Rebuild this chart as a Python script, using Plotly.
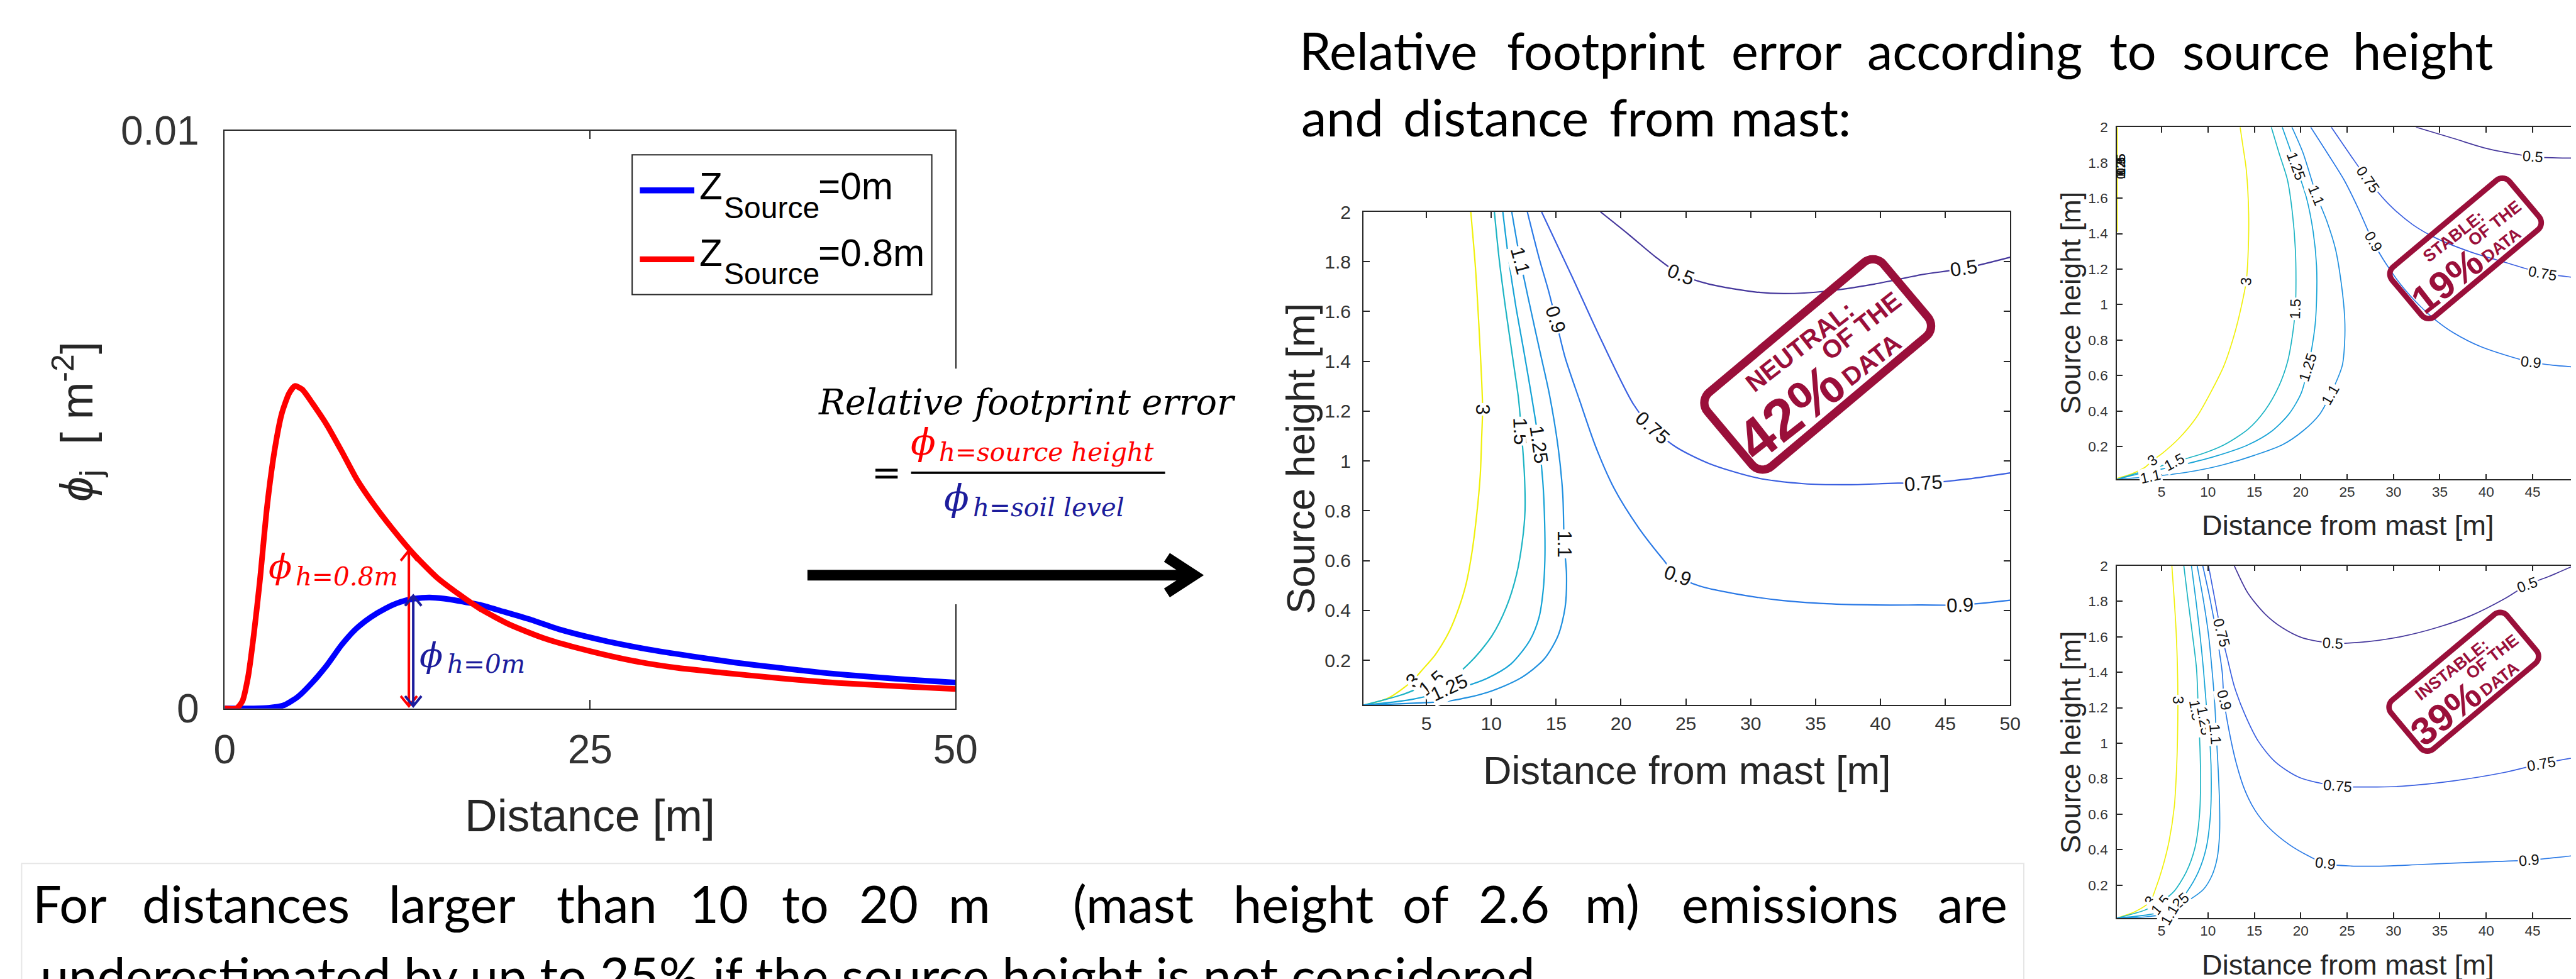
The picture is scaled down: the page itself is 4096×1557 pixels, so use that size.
import math
import plotly.graph_objects as go

# ============================ DATA ============================
# Left panel: footprint function phi_j [m^-2] vs distance [m]
dist_z0 = [0, 2, 3, 4, 5, 6, 7, 8, 9, 10, 11, 12, 13, 14, 15, 16, 17.5, 19, 21, 23, 26, 29, 32, 35, 38, 41, 44, 47, 50]
phi_z0 = [0.0, 0.0, 0.00001, 0.00005, 0.0002, 0.00045, 0.00075, 0.0011, 0.00138, 0.00158, 0.00173, 0.00184,
          0.0019, 0.00192, 0.0019, 0.00186, 0.00179, 0.00168, 0.00153, 0.00136, 0.00117, 0.00102, 0.0009,
          0.00079, 0.0007, 0.000615, 0.00055, 0.000495, 0.000448]
dist_z08 = [0, 0.8, 1.2, 1.6, 2.0, 2.4, 2.9, 3.4, 3.9, 4.4, 4.8, 5.3, 6.0, 7.0, 8.0, 9.0, 10.0, 11.5, 13.0,
            14.5, 16.0, 17.5, 19.5, 22.0, 25.0, 28.0, 31.0, 34.0, 38.0, 42.0, 46.0, 50.0]
phi_z08 = [0.0, 0.0, 0.00012, 0.00055, 0.0013, 0.0022, 0.0035, 0.00445, 0.0051, 0.00545, 0.00558, 0.00552,
           0.00528, 0.0049, 0.00445, 0.00398, 0.0036, 0.0031, 0.00265, 0.00227, 0.00198, 0.00172, 0.00145,
           0.0012, 0.00099, 0.00082, 0.0007, 0.00062, 0.00052, 0.00044, 0.000385, 0.000337]
legend_labels = ["Z", "Source", "=0m", "=0.8m"]
arrow_red = (12.6, 0.00273)
arrow_blue = (12.9, 0.00195)
arrow_base = 0.00004

# Contour lines of the relative footprint error (distance [m], source height [m])
neutral_3 = [(0.16, 0.02), (2.05, 0.048), (3.95, 0.119), (4.6, 0.157), (5.69, 0.223), (6.78, 0.318), (7.51, 0.412),
             (8.06, 0.507), (8.53, 0.64), (8.89, 0.791), (9.15, 0.943), (9.26, 1.094), (9.33, 1.208), (9.26, 1.322),
             (9.04, 1.549), (8.78, 1.776), (8.42, 2.0)]
neutral_15 = [(0.16, 0.02), (3.14, 0.062), (5.4, 0.109), (7.15, 0.138), (8.6, 0.204), (10.06, 0.299), (11.15, 0.412),
              (11.95, 0.545), (12.4, 0.68), (12.6, 0.8), (12.55, 0.95), (12.35, 1.1), (12.1, 1.25), (11.69, 1.4),
              (11.07, 1.625), (10.6, 1.814), (10.24, 2.0)]
neutral_125 = [(0.16, 0.02), (3.87, 0.043), (7.87, 0.094), (9.69, 0.128), (11.51, 0.185), (12.97, 0.28), (13.69, 0.374),
               (14.0, 0.48), (14.13, 0.6), (14.13, 0.715), (13.99, 0.905), (13.69, 1.066), (13.15, 1.246),
               (12.53, 1.435), (11.88, 1.625), (11.33, 1.814), (10.89, 2.0)]
neutral_11 = [(0.16, 0.02), (3.14, 0.026), (6.78, 0.037), (9.69, 0.071), (12.24, 0.128), (14.06, 0.204), (15.15, 0.299),
              (15.69, 0.412), (15.8, 0.545), (15.62, 0.668), (15.51, 0.867), (15.15, 1.056), (14.49, 1.265),
              (13.69, 1.454), (12.89, 1.644), (12.24, 1.805), (11.58, 2.0)]
neutral_09 = [(12.78, 2.0), (13.69, 1.814), (14.42, 1.682), (14.97, 1.568), (15.69, 1.416), (16.79, 1.246),
              (18.06, 1.056), (19.51, 0.886), (21.33, 0.734), (23.15, 0.611), (24.35, 0.539), (26.06, 0.498),
              (28.61, 0.469), (32.25, 0.441), (35.88, 0.427), (39.52, 0.422), (43.16, 0.422), (46.14, 0.422), (50, 0.441)]
neutral_075 = [(13.88, 2.0), (16.24, 1.739), (18.42, 1.492), (20.97, 1.227), (22.42, 1.132), (24.24, 1.056),
               (26.79, 0.99), (30.43, 0.933), (34.07, 0.909), (37.7, 0.905), (41.34, 0.911), (43.34, 0.911),
               (46.8, 0.928), (50, 0.952)]
neutral_05 = [(18.42, 2.0), (20.6, 1.909), (22.79, 1.814), (24.6, 1.748), (26.79, 1.71), (30.43, 1.678), (32.6, 1.672),
              (35.88, 1.682), (39.52, 1.71), (43.16, 1.748), (46.43, 1.773), (50, 1.818)]

stable_3 = [(0.2, 0.02), (1.75, 0.045), (3.23, 0.083), (4.04, 0.122), (5.07, 0.161), (6.92, 0.248), (8.77, 0.365),
            (10.25, 0.5), (11.73, 0.656), (12.84, 0.83), (13.58, 0.985), (14.13, 1.131), (14.32, 1.276), (14.39, 1.509),
            (14.13, 1.761), (13.76, 1.897), (13.47, 2.0)]
stable_3_edge = [(0.25, 1.41), (0.25, 2.0)]
stable_15 = [(0.2, 0.015), (3.23, 0.064), (6.37, 0.112), (9.51, 0.161), (11.73, 0.209), (14.32, 0.297), (16.16, 0.404),
             (17.64, 0.539), (18.57, 0.675), (19.12, 0.83), (19.42, 0.976), (19.49, 1.141), (19.42, 1.315),
             (19.12, 1.509), (18.57, 1.703), (17.64, 1.858), (16.83, 2.0)]
stable_125 = [(0.2, 0.015), (3.23, 0.054), (6.92, 0.093), (10.62, 0.142), (14.32, 0.209), (16.9, 0.287), (18.75, 0.384),
              (20.05, 0.5), (20.79, 0.646), (21.52, 0.869), (21.71, 1.024), (21.71, 1.218), (21.34, 1.412),
              (20.6, 1.606), (19.49, 1.781), (18.01, 2.0)]
stable_11 = [(0.2, 0.015), (3.78, 0.03), (7.66, 0.054), (11.36, 0.093), (15.06, 0.151), (18.01, 0.209), (20.23, 0.287),
             (22.08, 0.384), (23.19, 0.491), (24.48, 0.656), (24.74, 0.791), (24.74, 0.927), (24.37, 1.121),
             (23.74, 1.315), (22.82, 1.47), (21.71, 1.616), (20.23, 1.858), (19.05, 2.0)]
stable_09 = [(21.08, 2.0), (22.82, 1.858), (24.67, 1.703), (26.15, 1.548), (27.81, 1.354), (29.1, 1.238),
             (30.95, 1.102), (32.8, 0.995), (34.65, 0.908), (36.5, 0.84), (39.45, 0.762), (44.82, 0.675),
             (47.59, 0.656), (50, 0.646)]
stable_075 = [(23.3, 2.0), (25.41, 1.839), (27.26, 1.703), (29.47, 1.567), (32.06, 1.451), (34.65, 1.373),
              (38.35, 1.296), (42.04, 1.238), (46.11, 1.176), (50, 1.15)]
stable_05 = [(32.43, 2.0), (36.5, 1.936), (40.19, 1.878), (45.07, 1.833), (47.59, 1.827), (50, 1.825)]

instable_3 = [(0.2, 0.015), (2.12, 0.05), (3.78, 0.109), (4.33, 0.176), (5.07, 0.293), (5.81, 0.448), (6.37, 0.642),
              (6.6, 0.836), (6.72, 1.03), (6.76, 1.243), (6.7, 1.45), (6.55, 1.65), (6.35, 1.82), (6.11, 2.0)]
instable_15 = [(0.2, 0.015), (3.23, 0.06), (5.26, 0.118), (6.37, 0.167), (7.66, 0.274), (8.59, 0.409), (9.07, 0.584),
               (9.21, 0.778), (9.14, 0.972), (8.96, 1.185), (8.77, 1.418), (8.33, 1.612), (7.85, 1.806), (7.4, 2.0)]
instable_125 = [(0.2, 0.015), (4.33, 0.041), (6.55, 0.089), (7.66, 0.157), (8.96, 0.274), (9.81, 0.409),
                (10.25, 0.584), (10.36, 0.778), (10.25, 0.972), (9.9, 1.166), (9.51, 1.418), (9.14, 1.612),
                (8.7, 1.806), (8.22, 2.0)]
instable_11 = [(0.2, 0.015), (3.23, 0.021), (5.5, 0.04), (6.55, 0.075), (8.03, 0.118), (9.51, 0.176), (10.43, 0.254),
               (10.99, 0.351), (11.25, 0.487), (11.25, 0.661), (11.1, 0.855), (10.91, 1.04), (10.73, 1.224),
               (10.43, 1.418), (10.06, 1.612), (9.51, 1.806), (8.84, 2.0)]
instable_09 = [(9.44, 2.0), (10.25, 1.806), (10.99, 1.593), (11.54, 1.399), (11.73, 1.243), (12.28, 1.069),
               (13.02, 0.894), (13.95, 0.739), (15.06, 0.623), (16.53, 0.526), (18.75, 0.429), (20.97, 0.361),
               (22.63, 0.322), (25.41, 0.308), (29.1, 0.308), (32.8, 0.316), (38.35, 0.328), (44.63, 0.341), (50, 0.37)]
instable_075 = [(10.06, 2.0), (10.62, 1.845), (11.43, 1.622), (12.1, 1.476), (12.84, 1.321), (13.95, 1.166),
                (15.43, 1.011), (17.27, 0.894), (19.86, 0.807), (24.0, 0.758), (27.25, 0.753), (30.95, 0.758),
                (36.5, 0.788), (42.04, 0.836), (45.92, 0.884), (50, 0.923)]
instable_05 = [(12.84, 2.0), (14.32, 1.845), (16.16, 1.728), (18.01, 1.651), (20.23, 1.593), (23.48, 1.564),
               (27.25, 1.573), (30.95, 1.602), (34.65, 1.651), (38.35, 1.719), (42.04, 1.816), (44.45, 1.893),
               (46.85, 1.942), (49.25, 1.996)]

# contour labels: (text, distance, height, angle)
neutral_labels = [("3", 9.33, 1.208, 90), ("1.5", 12.24, 1.12, 88), ("1.25", 13.69, 1.066, 82),
                  ("1.1", 12.24, 1.805, 75), ("1.1", 15.62, 0.668, 90), ("0.9", 14.97, 1.568, 72),
                  ("0.75", 22.42, 1.132, 42), ("0.5", 24.6, 1.748, 22), ("0.5", 46.43, 1.773, -8),
                  ("0.75", 43.34, 0.911, -4), ("0.9", 24.35, 0.539, 20), ("0.9", 46.14, 0.422, -2),
                  ("3", 3.95, 0.119, -45), ("1.5", 5.4, 0.109, -40), ("1.25", 6.78, 0.09, -25)]
stable_labels = [("3", 4.04, 0.122, -35), ("1.5", 6.37, 0.112, -28), ("1.1", 3.78, 0.03, -12),
                 ("3", 14.13, 1.131, -85), ("1.5", 19.42, 0.976, -88), ("1.25", 19.49, 1.781, 70),
                 ("1.25", 20.79, 0.646, -72), ("1.1", 21.71, 1.616, 68), ("1.1", 23.19, 0.491, -60),
                 ("0.75", 27.26, 1.703, 55), ("0.9", 27.81, 1.354, 60), ("0.5", 45.07, 1.833, 4),
                 ("0.75", 46.11, 1.176, 10), ("0.9", 44.82, 0.675, 6)]
stable_jumble = ["0.5", "0.75", "0.9", "1.1", "1.25", "1.5"]
instable_labels = [("3", 6.74, 1.243, 90), ("1.5", 8.7, 1.185, 80), ("1.25", 9.58, 1.127, 80),
                   ("1.1", 10.8, 1.05, 85), ("0.75", 11.43, 1.622, 75), ("0.9", 11.73, 1.243, 75),
                   ("0.5", 23.48, 1.564, 3), ("0.75", 24.0, 0.758, 5), ("0.9", 22.63, 0.322, 7),
                   ("0.5", 44.45, 1.893, -20), ("0.75", 45.92, 0.884, -10), ("0.9", 44.63, 0.341, -5),
                   ("3", 3.78, 0.109, -55), ("1.5", 4.89, 0.089, -50), ("1.25", 6.55, 0.089, -40),
                   ("1.1", 5.89, 0.031, -60)]

dist_ticks = [5, 10, 15, 20, 25, 30, 35, 40, 45, 50]
height_ticks = [0.2, 0.4, 0.6, 0.8, 1.0, 1.2, 1.4, 1.6, 1.8, 2.0]
height_ticktext = ["0.2", "0.4", "0.6", "0.8", "1", "1.2", "1.4", "1.6", "1.8", "2"]

title_line1 = ["Relative", "footprint", "error", "according", "to", "source", "height"]
title_line2 = ["and", "distance", "from", "mast:"]
bottom_line1 = ["For", "distances", "larger", "than", "10", "to", "20", "m", "(mast", "height", "of", "2.6", "m)",
                "emissions", "are"]
bottom_line2 = "underestimated by up to 25% if the source height is not considered"
stamps = [("NEUTRAL:", "42%"), ("STABLE:", "19%"), ("INSTABLE:", "39%")]

# ============================ LAYOUT HELPERS ============================
W, H = 4096, 1557
S = W / 4350.0          # reference -> output scale


def fz(v):
    return round(v * S, 1)


def PX(x):
    return x / 4350.0


def PY(y):
    return 1.0 - y * S / H


AX = "Liberation Sans, Arial, Helvetica, sans-serif"
CAL = "Lato, Carlito, sans-serif"
SER = "DejaVu Serif, serif"
LINE_C = "#262626"
TICK_C = "#333333"
STAMP_C = "#9a0f3a"
NAVY = "#1c1c9c"
level_colors = {"0.5": "#45379c", "0.75": "#3a5fe0", "0.9": "#2a79e6", "1.1": "#1f90df",
                "1.25": "#16a3d6", "1.5": "#1db4c4", "3": "#f0f00c"}

fig = go.Figure()
ann = []
shapes = []


def text(xr, yr, t, size, color="#000000", family=AX, angle=0, xanchor="center", yanchor="middle", **kw):
    d = dict(x=PX(xr), y=PY(yr), xref="paper", yref="paper", text=t, showarrow=False,
             font=dict(family=family, size=size, color=color), textangle=angle,
             xanchor=xanchor, yanchor=yanchor)
    d.update(kw)
    ann.append(d)


def path_px(pts, closed=False, **kw):
    s = "M " + " L ".join(f"{PX(x):.6f},{PY(y):.6f}" for x, y in pts) + (" Z" if closed else "")
    d = dict(type="path", xref="paper", yref="paper", path=s, layer="above")
    d.update(kw)
    shapes.append(d)


def rect_px(x0, y0, x1, y1, **kw):
    d = dict(type="rect", xref="paper", yref="paper", x0=PX(x0), x1=PX(x1), y0=PY(y1), y1=PY(y0), layer="above")
    d.update(kw)
    shapes.append(d)


def phi_sym(xc, yc, sub, sub_left, sub_yc, color, fphi, fsub):
    text(xc, yc, "<i>ϕ</i>", fz(fphi), color=color, family=SER)
    text(sub_left, sub_yc, f"<i>{sub}</i>", fz(fsub), color=color, family=SER, xanchor="left")


def mk_axis(domain, rng, tickvals, ticktext, anchor, ticklen, fsize, standoff):
    return dict(domain=domain, range=rng, tickmode="array", tickvals=tickvals, ticktext=ticktext, anchor=anchor,
                showgrid=False, zeroline=False, showline=True, linecolor=LINE_C, linewidth=2, mirror="ticks",
                ticks="inside", ticklen=ticklen, tickwidth=2, tickcolor=LINE_C,
                tickfont=dict(family=AX, size=fsize, color=TICK_C), ticklabelstandoff=standoff,
                automargin=False, fixedrange=True)


# ============================ LEFT PANEL ============================
fig.add_trace(go.Scatter(x=dist_z0, y=phi_z0, mode="lines", xaxis="x", yaxis="y", hoverinfo="skip",
                         line=dict(color="#0000ff", width=9, shape="spline", smoothing=0.6)))
fig.add_trace(go.Scatter(x=dist_z08, y=phi_z08, mode="lines", xaxis="x", yaxis="y", hoverinfo="skip",
                         line=dict(color="#ff0000", width=9, shape="spline", smoothing=0.6)))

# double-headed arrows (shaft in data units, chevron heads in pixels)
for (ax_x, ax_top), col in ((arrow_red, "#ff0000"), (arrow_blue, NAVY)):
    shapes.append(dict(type="line", xref="x", yref="y", x0=ax_x, x1=ax_x, y0=arrow_base, y1=ax_top,
                       line=dict(color=col, width=4), layer="above"))
    for yv, sgn in ((ax_top, -1), (arrow_base, 1)):
        shapes.append(dict(type="path", xref="x", yref="y", xsizemode="pixel", ysizemode="pixel",
                           xanchor=ax_x, yanchor=yv, path=f"M -13,{16 * sgn} L 0,0 L 13,{16 * sgn}",
                           line=dict(color=col, width=4), layer="above"))

phi_sym(465, 948, "h=0.8m", 488, 965, "#ff0000", 58, 43)
phi_sym(720, 1098, "h=0m", 744, 1113, NAVY, 58, 43)

# legend box
rect_px(1059, 253, 1565, 489, fillcolor="white", line=dict(color=LINE_C, width=2))
path_px([(1072, 313), (1164, 313)], line=dict(color="#0000ff", width=fz(10)))
path_px([(1072, 429.5), (1164, 429.5)], line=dict(color="#ff0000", width=fz(10)))
for k, val in enumerate([legend_labels[2], legend_labels[3]]):
    yc = 306 + 112 * k
    text(1170, yc, legend_labels[0], fz(64), color="#000000", xanchor="left")
    text(1212, yc + 36, legend_labels[1], fz(51), color="#000000", xanchor="left")
    text(1371, yc, val, fz(64), color="#000000", xanchor="left")

text(988, 1369, "Distance [m]", fz(76), color=LINE_C)
text(122, 703, "<i>ϕ</i><sub>j</sub>\u00a0\u00a0[\u00a0m<sup>-2</sup>]", fz(76), color=LINE_C, angle=-90)

# white cover for the right spine behind the formula text box
rect_px(1585, 614, 1625, 1012, fillcolor="white", line=dict(width=0))

# ============================ FORMULA + ARROW ============================
text(1726, 671, "<i>Relative footprint error</i>", fz(59), family=SER)
text(1488, 790, "=", fz(60), family=SER)
path_px([(1530, 790), (1959, 790)], line=dict(color="#000000", width=fz(4)))
phi_sym(1551, 738, "h=source height", 1575, 755, "#ff0000", 62, 43)
phi_sym(1607, 833, "h=soil level", 1632, 849, NAVY, 62, 43)
path_px([(1355, 963), (2000, 963)], line=dict(color="#000000", width=fz(18)))
path_px([(1962, 933), (2008, 963), (1962, 993)], line=dict(color="#000000", width=fz(18)))

# ============================ TITLE TEXT ============================
t1_centres = [2336, 2703, 3009, 3326, 3593, 3801, 4083]
for w, xc in zip(title_line1, t1_centres):
    text(xc, 76, w, fz(86), family=CAL)
t2_centres = [2258, 2518, 2799, 3016]
for w, xc in zip(title_line2, t2_centres):
    text(xc, 188, w, fz(86), family=CAL)

# ============================ BOTTOM TEXT ============================
rect_px(28, 1450, 3409, 1720, fillcolor="rgba(0,0,0,0)", line=dict(color="#e6e6e6", width=2))
b1_centres = [109, 407, 755, 1016, 1205, 1351, 1492, 1629, 1905, 2192, 2399, 2548, 2714, 3014, 3323]
for w, xc in zip(bottom_line1, b1_centres):
    text(xc, 1517, w, fz(86), family=CAL)
text(57, 1638, bottom_line2, fz(86), family=CAL, xanchor="left")

# ============================ CONTOUR PANELS ============================
panels = [
    ("x2", "y2", [("3", neutral_3), ("1.5", neutral_15), ("1.25", neutral_125), ("1.1", neutral_11),
                  ("0.9", neutral_09), ("0.75", neutral_075), ("0.5", neutral_05)], neutral_labels, 2.2, fz(33)),
    ("x3", "y3", [("3", stable_3), ("3", stable_3_edge), ("1.5", stable_15), ("1.25", stable_125),
                  ("1.1", stable_11), ("0.9", stable_09), ("0.75", stable_075), ("0.5", stable_05)],
     stable_labels, 1.7, fz(25)),
    ("x4", "y4", [("3", instable_3), ("1.5", instable_15), ("1.25", instable_125), ("1.1", instable_11),
                  ("0.9", instable_09), ("0.75", instable_075), ("0.5", instable_05)], instable_labels, 1.7, fz(25)),
]
for xa, ya, lines, labels, lw, lfs in panels:
    for lev, pts in lines:
        fig.add_trace(go.Scatter(x=[p[0] for p in pts], y=[p[1] for p in pts], mode="lines", xaxis=xa, yaxis=ya,
                                 hoverinfo="skip",
                                 line=dict(color=level_colors[lev], width=lw, shape="spline", smoothing=0.8)))
    for t, xv, yv, angle in labels:
        ann.append(dict(x=xv, y=yv, xref=xa, yref=ya, text=t, showarrow=False, textangle=angle,
                        font=dict(family=AX, size=lfs, color="#111111"), bgcolor="white", borderpad=1))

for t in stable_jumble:
    ann.append(dict(x=0.55, y=1.78, xref="x3", yref="y3", text=t, showarrow=False, textangle=-90,
                    font=dict(family=AX, size=fz(22), color="#111111")))

# axis titles for contour panels
text(2840, 1292, "Distance from mast [m]", fz(67), color=LINE_C)
text(2188, 766, "Source height [m]", fz(67), color=LINE_C, angle=-90)
text(3956, 879, "Distance from mast [m]", fz(48), color=LINE_C)
text(3488, 503, "Source height [m]", fz(48), color=LINE_C, angle=-90)
text(3956, 1621, "Distance from mast [m]", fz(48), color=LINE_C)
text(3488, 1245, "Source height [m]", fz(48), color=LINE_C, angle=-90)


# ============================ STAMPS ============================
def stamp(cx, cy, L, label, pct):
    a = math.radians(40)
    sw = 0.037 * L
    hw, hh, r = 0.53 * L - sw / 2, 0.234 * L - sw / 2, 0.08 * L - sw / 2
    pts = []
    for ux, uy, a0 in ((hw - r, hh - r, 0), (-hw + r, hh - r, 90), (-hw + r, -hh + r, 180), (hw - r, -hh + r, 270)):
        for k in range(10):
            t = math.radians(a0 + 90 * k / 9)
            pts.append((ux + r * math.cos(t), uy + r * math.sin(t)))
    scr = [(cx + u * math.cos(a) - v * math.sin(a), cy - (u * math.sin(a) + v * math.cos(a))) for u, v in pts]
    path_px(scr, closed=True, line=dict(color=STAMP_C, width=fz(sw)), fillcolor="rgba(0,0,0,0)")
    small = fz(0.113 * L)
    for t, dx, dy, sz in ((label, -0.08, -0.08, small), ("OF THE", 0.195, -0.17, small),
                          (pct, -0.122, 0.215, fz(0.26 * L)), ("DATA", 0.24, -0.02, small)):
        text(cx + dx * L, cy + dy * L, f"<b>{t}</b>", sz, color=STAMP_C, angle=-38)


stamp(3061, 607, 379, *stamps[0])
stamp(4155, 411, 253, *stamps[1])
stamp(4152, 1143, 250, *stamps[2])

# ============================ AXES ============================
layout_axes = dict(
    xaxis=mk_axis([PX(371), PX(1605)], [0, 50], [0, 25, 50], ["0", "25", "50"], "y", fz(14), fz(68), 9),
    yaxis=mk_axis([PY(1188), PY(212)], [0, 0.01], [0, 0.01], ["0", "0.01"], "x", fz(14), fz(68), 26),
    xaxis2=mk_axis([PX(2294), PX(3386)], [0.15, 50], dist_ticks, [str(v) for v in dist_ticks], "y2", fz(11), fz(32), 1),
    yaxis2=mk_axis([PY(1182.5), PY(349.4)], [0.02, 2], height_ticks, height_ticktext, "x2", fz(11), fz(32), 12),
    xaxis3=mk_axis([PX(3566.5), PX(4346.5)], [0.2, 50], dist_ticks, [str(v) for v in dist_ticks], "y3", fz(9), fz(24), -1),
    yaxis3=mk_axis([PY(801), PY(206.3)], [0.015, 2], height_ticks, height_ticktext, "x3", fz(9), fz(24), 8),
    xaxis4=mk_axis([PX(3566.5), PX(4346.5)], [0.2, 50], dist_ticks, [str(v) for v in dist_ticks], "y4", fz(9), fz(24), -1),
    yaxis4=mk_axis([PY(1542), PY(947.1)], [0.015, 2], height_ticks, height_ticktext, "x4", fz(9), fz(24), 8),
)

fig.update_layout(width=W, height=H, margin=dict(l=0, r=0, t=0, b=0, pad=0, autoexpand=False),
                  paper_bgcolor="white", plot_bgcolor="white", showlegend=False,
                  font=dict(family=AX, color="#000000"), annotations=ann, shapes=shapes, **layout_axes)

fig.write_html("out.html")
